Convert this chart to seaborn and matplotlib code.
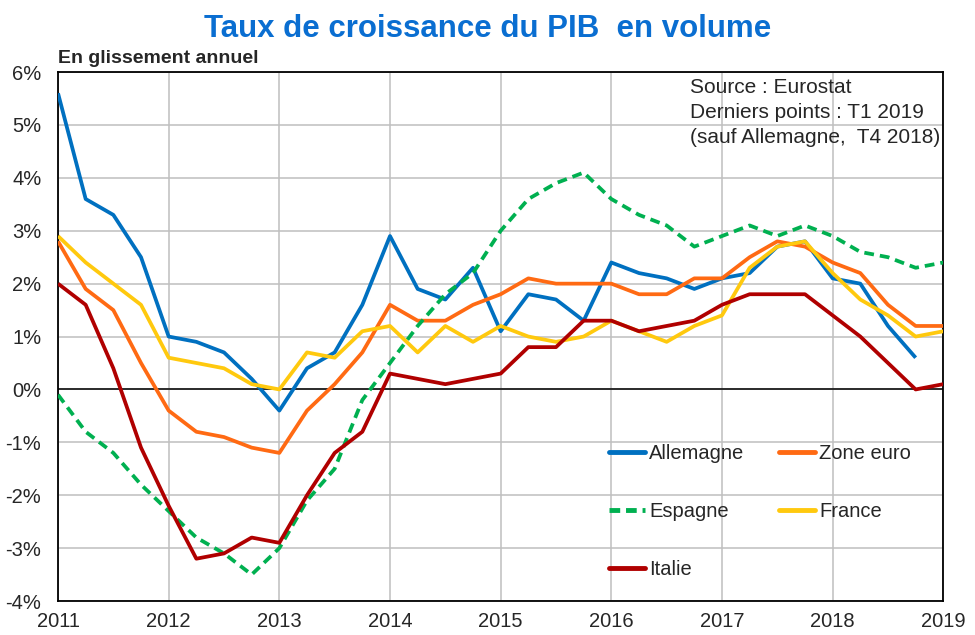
import numpy as np
import pandas as pd
import matplotlib.pyplot as plt
import seaborn as sns
from matplotlib.lines import Line2D

# trimestres T1 2011 -> T1 2019
trimestres = 2011 + np.arange(33) / 4

allemagne = [5.6, 3.6, 3.3, 2.5, 1.0, 0.9, 0.7, 0.2, -0.4, 0.4, 0.7, 1.6, 2.9,
             1.9, 1.7, 2.3, 1.1, 1.8, 1.7, 1.3, 2.4, 2.2, 2.1, 1.9, 2.1, 2.2,
             2.7, 2.8, 2.1, 2.0, 1.2, 0.6]
zone_euro = [2.8, 1.9, 1.5, 0.5, -0.4, -0.8, -0.9, -1.1, -1.2, -0.4, 0.1, 0.7,
             1.6, 1.3, 1.3, 1.6, 1.8, 2.1, 2.0, 2.0, 2.0, 1.8, 1.8, 2.1, 2.1,
             2.5, 2.8, 2.7, 2.4, 2.2, 1.6, 1.2, 1.2]
espagne = [-0.1, -0.8, -1.2, -1.8, -2.3, -2.8, -3.1, -3.5, -3.0, -2.1, -1.5,
           -0.2, 0.5, 1.2, 1.8, 2.2, 3.0, 3.6, 3.9, 4.1, 3.6, 3.3, 3.1, 2.7,
           2.9, 3.1, 2.9, 3.1, 2.9, 2.6, 2.5, 2.3, 2.4]
france = [2.9, 2.4, 2.0, 1.6, 0.6, 0.5, 0.4, 0.1, 0.0, 0.7, 0.6, 1.1, 1.2, 0.7,
          1.2, 0.9, 1.2, 1.0, 0.9, 1.0, 1.3, 1.1, 0.9, 1.2, 1.4, 2.3, 2.7, 2.8,
          2.2, 1.7, 1.4, 1.0, 1.1]
italie = [2.0, 1.6, 0.4, -1.1, -2.2, -3.2, -3.1, -2.8, -2.9, -2.0, -1.2, -0.8,
          0.3, 0.2, 0.1, 0.2, 0.3, 0.8, 0.8, 1.3, 1.3, 1.1, 1.2, 1.3, 1.6, 1.8,
          1.8, 1.8, 1.4, 1.0, 0.5, 0.0, 0.1]

series = {"Allemagne": allemagne, "Zone euro": zone_euro, "Espagne": espagne,
          "France": france, "Italie": italie}
couleurs = {"Allemagne": "#0070C0", "Zone euro": "#FF6A13", "Espagne": "#00B050",
            "France": "#FFC90E", "Italie": "#B00000"}
tirets = {"Allemagne": "", "Zone euro": "", "Espagne": (2.6, 1.6),
          "France": "", "Italie": ""}

rows = []
for nom, vals in series.items():
    for t, v in zip(trimestres, vals):
        rows.append({"t": t, "v": v, "pays": nom})
df = pd.DataFrame(rows)

sns.set_style("white")
plt.rcParams["font.family"] = ["Liberation Sans", "DejaVu Sans"]

fig = plt.figure(figsize=(9.75, 6.35), dpi=100)
ax = fig.add_axes([0.0595, 0.0535, 0.908, 0.833])

ax.grid(True, color="#BFBFBF", linewidth=1.1, zorder=0)
ax.axhline(0, color="black", linewidth=1.1, zorder=1)

ordre = ["Allemagne", "Zone euro", "Espagne", "France", "Italie"]
sns.lineplot(data=df, x="t", y="v", hue="pays", style="pays", hue_order=ordre,
             style_order=ordre, palette=couleurs, dashes=tirets,
             linewidth=2.7, legend=False, ax=ax, zorder=3)
for l in ax.get_lines():
    l.set_solid_capstyle("butt")

ax.set_xlim(2011, 2019)
ax.set_ylim(-4, 6)
ax.set_xticks(range(2011, 2020))
ax.set_xticklabels([str(a) for a in range(2011, 2020)], fontsize=14.5)
ax.set_yticks(range(-4, 7))
ax.set_yticklabels([f"{v}%" for v in range(-4, 7)], fontsize=14.5)
ax.tick_params(length=0)
ax.tick_params(axis="y", pad=12)
ax.tick_params(axis="x", pad=8)
ax.set_xlabel("")
ax.set_ylabel("")
for s in ax.spines.values():
    s.set_color("black")
    s.set_linewidth(1.3)

fig.text(0.5, 0.955, "Taux de croissance du PIB  en volume", ha="center",
         va="center", fontsize=22.5, fontweight="bold", color="#0A6ED1")
fig.text(0.0595, 0.908, "En glissement annuel", ha="left", va="center",
         fontsize=14, fontweight="bold")

ax.text(0.714, 0.988, "Source : Eurostat\nDerniers points : T1 2019\n(sauf Allemagne,  T4 2018)",
        transform=ax.transAxes, ha="left", va="top", fontsize=15, linespacing=1.38)

handles = {n: Line2D([], [], color=couleurs[n], linewidth=3.5,
                     linestyle=(0, (2.2, 1.2)) if n == "Espagne" else "-")
           for n in ordre}
leg_ordre = ["Allemagne", "Espagne", "Italie", "Zone euro", "France"]
ax.legend([handles[n] for n in leg_ordre], leg_ordre, ncol=2, frameon=False,
          loc="upper left", bbox_to_anchor=(0.611, 0.316), borderpad=0,
          fontsize=14.5, handlelength=1.8, handletextpad=0.2, columnspacing=1.7,
          labelspacing=1.95)

fig.savefig("out.png", dpi=100)
